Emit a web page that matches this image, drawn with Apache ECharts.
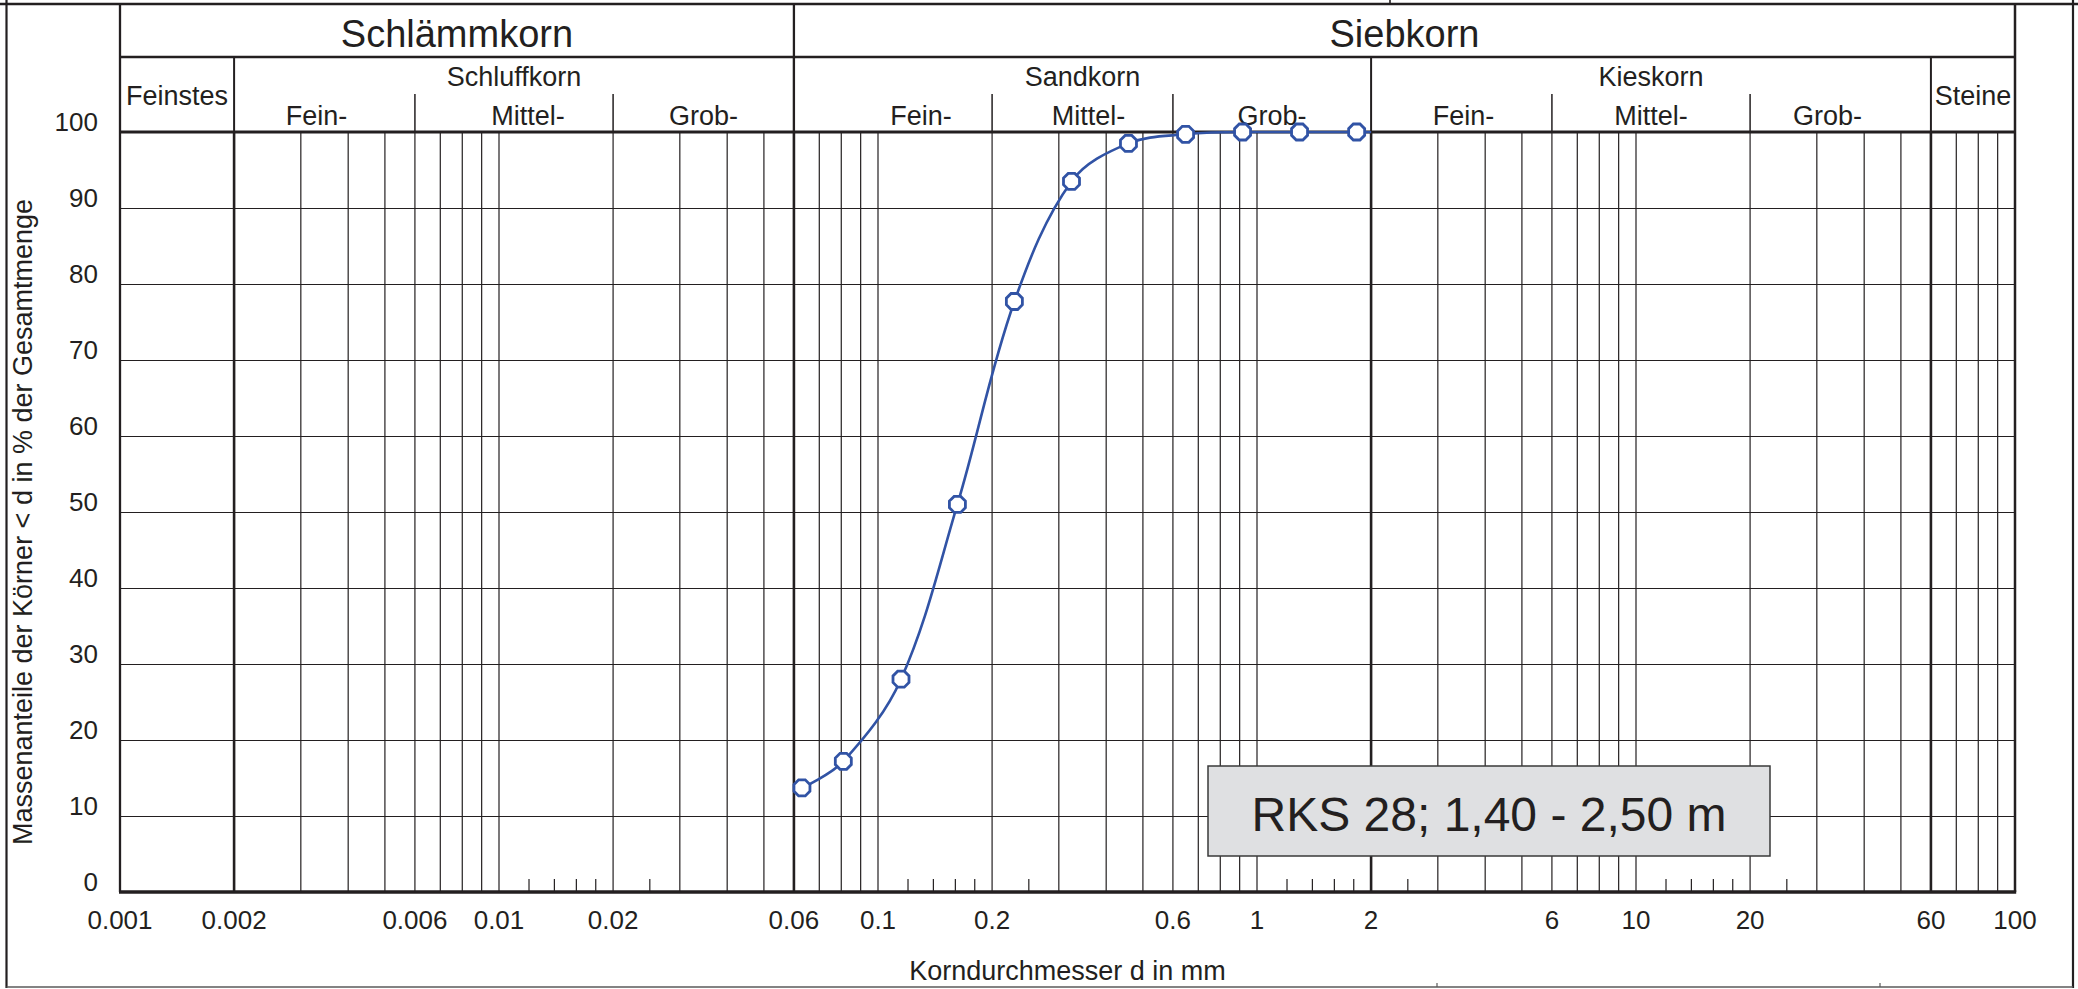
<!DOCTYPE html>
<html lang="de">
<head>
<meta charset="utf-8">
<title>Körnungslinie RKS 28</title>
<script src="https://cdn.jsdelivr.net/npm/echarts@6/dist/echarts.min.js"></script>
<style>
  html, body { margin: 0; padding: 0; background: #ffffff; }
  #chart { width: 2078px; height: 989px; }
</style>
</head>
<body>
<div id="chart"></div>
<script>
// ---- measured grain size distribution ----
const grainSizeMm    = [0.063, 0.081, 0.115, 0.162, 0.229, 0.324, 0.458, 0.648, 0.916, 1.295, 1.832];
const passingPercent = [13.7, 17.2, 28.0, 51.0, 77.7, 93.5, 98.5, 99.7, 100, 100, 100];
// the curve is carried on flat to the sand/gravel boundary
const curveEndMm = 2;
const curveEndPercent = 100;

const sampleLabel = 'RKS 28; 1,40 - 2,50 m';
const xAxisTitle = 'Korndurchmesser d in mm';
const yAxisTitle = 'Massenanteile der Körner < d in % der Gesamtmenge';

// ---- axis labelling ----
const xTickValues = [0.001, 0.002, 0.006, 0.01, 0.02, 0.06, 0.1, 0.2, 0.6, 1, 2, 6, 10, 20, 60, 100];
const xTickLabels = ['0.001', '0.002', '0.006', '0.01', '0.02', '0.06', '0.1', '0.2', '0.6', '1', '2', '6', '10', '20', '60', '100'];
const yTickStep = 10;

// ---- log raster of the grain size sheet ----
const rasterLines = [0.003, 0.004, 0.005, 0.006, 0.007, 0.008, 0.009, 0.01,
                     0.02, 0.03, 0.04, 0.05, 0.07, 0.08, 0.09, 0.1,
                     0.2, 0.3, 0.4, 0.5, 0.6, 0.7, 0.8, 0.9, 1,
                     3, 4, 5, 6, 7, 8, 9, 10,
                     20, 30, 40, 50, 70, 80, 90];
const boundaryLines = [0.002, 0.06, 2, 60];
const shortTicks = [0.012, 0.014, 0.016, 0.018, 0.025,
                    0.12, 0.14, 0.16, 0.18, 0.25,
                    1.2, 1.4, 1.6, 1.8, 2.5,
                    12, 14, 16, 18, 25];

// ---- soil fraction header (DIN 18123) ----
const groupNames  = ['Schlämmkorn', 'Siebkorn'];
const groupBounds = [0.001, 0.06, 100];
const classNames  = ['Feinstes', 'Schluffkorn', 'Sandkorn', 'Kieskorn', 'Steine'];
const classBounds = [0.001, 0.002, 0.06, 2, 60, 100];
const subNames    = ['Fein-', 'Mittel-', 'Grob-'];
const subBounds   = [null, [0.002, 0.006, 0.02, 0.06], [0.06, 0.2, 0.6, 2], [2, 6, 20, 60], null];

// ---- look ----
const FONT = '"Liberation Sans", Arial, Helvetica, sans-serif';
const INK = '#231f20';
const CURVE = '#3153a5';
const OCTAGON = 'path://M29.3,0 L70.7,0 L100,29.3 L100,70.7 L70.7,100 L29.3,100 L0,70.7 L0,29.3 Z';
// horizontal nudges (px) of the Fein-/Mittel-/Grob- captions inside their cells
const subLabelShift = [null, [-8, 14, 0], [28, 6, 0], [2, 0, -13], null];

const chart = echarts.init(document.getElementById('chart'), null, { renderer: 'svg', width: 2078, height: 989 });

function vLine(x, y1, y2, w) {
  return { type: 'line', shape: { x1: x, y1: y1, x2: x, y2: y2 }, style: { stroke: INK, lineWidth: w } };
}
function hLine(x1, x2, y, w) {
  return { type: 'line', shape: { x1: x1, y1: y, x2: x2, y2: y }, style: { stroke: INK, lineWidth: w } };
}
function label(text, x, y, size) {
  return { type: 'text', style: { text: text, x: x, y: y, align: 'center', verticalAlign: 'middle',
           fontSize: size, fontFamily: FONT, fill: INK } };
}

// vertical raster lines running through the full plot height
function rasterSeries(values, width) {
  return {
    type: 'custom', coordinateSystem: 'cartesian2d', silent: true, clip: false, z: 1,
    data: values.map(v => [v, 0]),
    renderItem: (params, api) => {
      const p0 = api.coord([api.value(0), 0]);
      const p1 = api.coord([api.value(0), 100]);
      return vLine(p0[0], p0[1], p1[1], width);
    }
  };
}

const series = [
  rasterSeries(rasterLines, 1.2),
  rasterSeries(boundaryLines, 2.6),
  {
    // short ticks at the foot of the raster
    type: 'custom', coordinateSystem: 'cartesian2d', silent: true, clip: false, z: 1,
    data: shortTicks.map(v => [v, 0]),
    renderItem: (params, api) => {
      const p = api.coord([api.value(0), 0]);
      return vLine(p[0], p[1], p[1] - 13, 1.2);
    }
  },
  {
    // plot frame and the fraction header above it
    type: 'custom', coordinateSystem: 'cartesian2d', silent: true, clip: false, z: 2,
    data: [[0.001, 0]],
    renderItem: (params, api) => {
      const xOf = v => api.coord([v, 0])[0];
      const yBottom = api.coord([1, 0])[1];
      const yTop = api.coord([1, 100])[1];
      const yHead = yTop - 128, yRow2 = yTop - 75, ySub = yTop - 38;
      const xl = xOf(0.001), xr = xOf(100);
      const kids = [];
      // frame
      kids.push(vLine(xl, yHead, yBottom, 2.3));
      kids.push(vLine(xr, yHead, yBottom, 2.5));
      kids.push(hLine(xl, xr, yTop, 2.8));
      kids.push(hLine(xl - 1, xr + 1.2, yBottom, 3.4));
      kids.push(hLine(xl, xr, yRow2, 2.3));
      // top row
      kids.push(vLine(xOf(groupBounds[1]), yHead, yTop, 2.3));
      groupNames.forEach((n, i) => {
        kids.push(label(n, (xOf(groupBounds[i]) + xOf(groupBounds[i + 1])) / 2, yHead + 30, 38));
      });
      // second row
      classNames.forEach((n, i) => {
        const a = xOf(classBounds[i]), b = xOf(classBounds[i + 1]);
        if (i > 0) kids.push(vLine(a, yRow2, yTop, 2));
        const subs = subBounds[i];
        if (subs) {
          kids.push(label(n, (a + b) / 2, yTop - 55, 27));
          for (let k = 1; k < subs.length - 1; k++) kids.push(vLine(xOf(subs[k]), ySub, yTop, 1.5));
          subNames.forEach((s, k) => {
            const c = (xOf(subs[k]) + xOf(subs[k + 1])) / 2 + subLabelShift[i][k];
            kids.push(label(s, c, yTop - 16.5, 27));
          });
        } else {
          kids.push(label(n, (a + b) / 2, yTop - 36, 27));
        }
      });
      return { type: 'group', children: kids };
    }
  },
  {
    // grain size tick labels
    type: 'custom', coordinateSystem: 'cartesian2d', silent: true, clip: false, z: 2,
    data: xTickValues.map(v => [v, 0]),
    renderItem: (params, api) => {
      const p = api.coord([api.value(0), 0]);
      return label(xTickLabels[params.dataIndex], p[0], p[1] + 28, 26);
    }
  },
  {
    name: sampleLabel,
    type: 'line',
    z: 10,
    smooth: 0.35,
    symbol: OCTAGON,
    symbolSize: 16,
    lineStyle: { color: CURVE, width: 2.6 },
    itemStyle: { color: '#ffffff', borderColor: CURVE, borderWidth: 2.8 },
    data: grainSizeMm.map((d, i) => [d, passingPercent[i]])
      .concat([{ value: [curveEndMm, curveEndPercent], symbol: 'none' }])
  }
];

chart.setOption({
  animation: false,
  backgroundColor: '#ffffff',
  grid: { left: 120, right: 63, top: 132, bottom: 90, containLabel: false },
  xAxis: {
    type: 'log', logBase: 10, min: 0.001, max: 100,
    axisLine: { show: false }, axisTick: { show: false }, axisLabel: { show: false },
    splitLine: { show: false }, minorSplitLine: { show: false },
    name: xAxisTitle, nameLocation: 'middle', nameGap: 65,
    nameTextStyle: { fontSize: 27, fontFamily: FONT, color: INK }
  },
  yAxis: {
    type: 'value', min: 0, max: 100, interval: yTickStep,
    axisLine: { show: false }, axisTick: { show: false },
    axisLabel: { margin: 22, fontSize: 26, fontFamily: FONT, color: INK, verticalAlign: 'bottom', lineHeight: 20 },
    splitLine: { show: true, lineStyle: { color: INK, width: 1.2 } },
    name: yAxisTitle, nameLocation: 'middle', nameGap: 84, nameRotate: 90,
    nameTextStyle: { fontSize: 27, fontFamily: FONT, color: INK, padding: [0, 20, 0, 0] }
  },
  series: series,
  graphic: [
    // sheet border
    { type: 'line', z: 50, silent: true, shape: { x1: 0, y1: 4, x2: 2078, y2: 4 }, style: { stroke: INK, lineWidth: 2.6 } },
    { type: 'line', z: 50, silent: true, shape: { x1: 6.5, y1: 0, x2: 6.5, y2: 988 }, style: { stroke: INK, lineWidth: 2.2 } },
    { type: 'line', z: 50, silent: true, shape: { x1: 2073, y1: 0, x2: 2073, y2: 988 }, style: { stroke: INK, lineWidth: 2.2 } },
    { type: 'line', z: 50, silent: true, shape: { x1: 6.5, y1: 987, x2: 2073, y2: 987 }, style: { stroke: '#5a5a5a', lineWidth: 1.6 } },
    { type: 'line', z: 50, silent: true, shape: { x1: 1390, y1: 0, x2: 1390, y2: 4 }, style: { stroke: INK, lineWidth: 1.6 } },
    { type: 'line', z: 50, silent: true, shape: { x1: 1437, y1: 983, x2: 1437, y2: 987 }, style: { stroke: '#5a5a5a', lineWidth: 1.2 } },
    { type: 'line', z: 50, silent: true, shape: { x1: 1880, y1: 983, x2: 1880, y2: 987 }, style: { stroke: '#5a5a5a', lineWidth: 1.2 } },
    // sample designation box
    {
      type: 'group', z: 60, silent: true,
      children: [
        { type: 'rect', z: 60, shape: { x: 1208, y: 766, width: 562, height: 90 },
          style: { fill: '#dfe0e2', stroke: '#3a3a3a', lineWidth: 1.5 } },
        { type: 'text', z: 61, style: { text: sampleLabel, x: 1489, y: 814, align: 'center', verticalAlign: 'middle',
          fontSize: 48, fontFamily: FONT, fill: INK } }
      ]
    }
  ]
});
</script>
</body>
</html>
